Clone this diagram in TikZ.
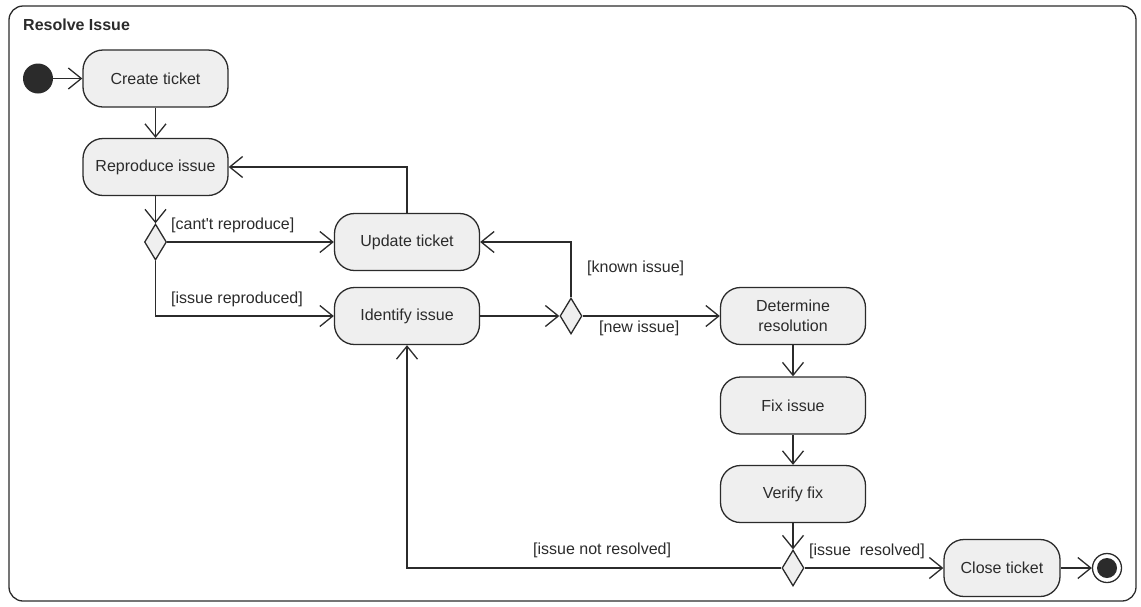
\documentclass[tikz,border=0pt]{standalone}
\usepackage{fontspec}
\setmainfont{Liberation Sans}
\usetikzlibrary{arrows.meta,shapes.geometric}
\definecolor{ln}{HTML}{2B2B2B}
\definecolor{fl}{HTML}{EFEFEF}
\tikzset{
 act/.style={draw=ln, fill=fl, line width=1.3pt, rounded corners=20pt, minimum width=145pt, minimum height=57pt, align=center, font=\fontsize{16}{20}\selectfont, inner sep=0pt, text=ln},
 dec/.style={draw=ln, fill=fl, diamond, minimum width=22pt, minimum height=36pt, inner sep=0pt, line width=1.3pt},
 flow/.style={draw=ln, line width=1.3pt, -{Straight Barb[length=13pt,width=21pt]}},
 lbl/.style={font=\fontsize{16}{19}\selectfont, inner sep=0pt, text=ln, anchor=west}
}
\begin{document}
\begin{tikzpicture}[x=1pt,y=-1pt]
\useasboundingbox (0,0) rectangle (1141,606);
\draw[ln, line width=1.3pt, rounded corners=14pt] (9,6) rectangle (1136,601);
\node[anchor=base west, font=\bfseries\fontsize{16}{19}\selectfont, inner sep=0pt, text=ln] (title) at (23,30) {Resolve Issue};

\node[circle, fill=ln, minimum size=30pt, inner sep=0pt] (init) at (38,78.5) {};
\node[act] (create) at (155.5,78.5) {Create ticket};
\node[act] (repro) at (155.5,167) {Reproduce issue};
\node[dec] (d1) at (155.5,242) {};
\node[act] (update) at (407,242) {Update ticket};
\node[act] (ident) at (407,316) {Identify issue};
\node[dec] (d2) at (571,316) {};
\node[act] (det) at (793,316) {Determine\\resolution};
\node[act] (fix) at (793,405.5) {Fix issue};
\node[act] (verify) at (793,494) {Verify fix};
\node[dec] (d3) at (793,568) {};
\node[act, minimum width=116pt] (close) at (1002,568) {Close ticket};
\node[circle, draw=ln, line width=1.3pt, fill=white, minimum size=29pt, inner sep=0pt] (final) at (1107,568) {};
\fill[ln] (final.center) circle (10pt);

\draw[flow] (init) -- (create);
\draw[flow] (create) -- (repro);
\draw[flow] (repro) -- (d1);
\draw[flow] (d1) -- (update);
\draw[flow] (d1.south) |- (ident.west);
\draw[flow] (update.north) |- (repro.east);
\draw[flow] (ident) -- (d2);
\draw[flow] (d2) -- (det);
\draw[flow] (d2.north) |- (update.east);
\draw[flow] (det) -- (fix);
\draw[flow] (fix) -- (verify);
\draw[flow] (verify) -- (d3);
\draw[flow] (d3) -- (close);
\draw[flow] (close) -- (final);
\draw[flow] (d3.west) -| (ident.south);

\node[lbl] (l1) at (171,225) {[cant\textquotesingle t reproduce]};
\node[lbl] (l2) at (171,299) {[issue reproduced]};
\node[lbl] (l3) at (587,268) {[known issue]};
\node[lbl] (l4) at (599,328) {[new issue]};
\node[lbl] (l5) at (533,550) {[issue not resolved]};
\node[lbl] (l6) at (809,551) {[issue\ \ resolved]};
\end{tikzpicture}
\end{document}
